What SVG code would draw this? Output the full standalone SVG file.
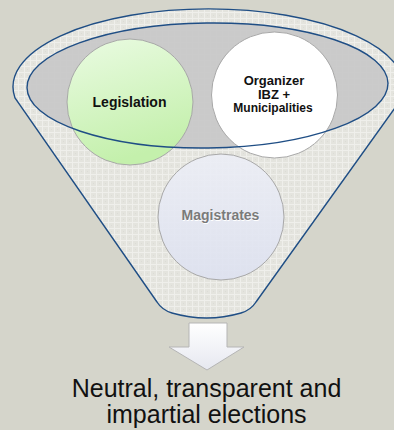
<svg xmlns="http://www.w3.org/2000/svg" width="394" height="430" viewBox="0 0 394 430">
<defs>
<style>
.funnel{fill:url(#grid);stroke:#1f4e85;stroke-width:1.4}
.inner{fill:#c8c8c8;fill-opacity:0.92}
.innerStroke{fill:none;stroke:#1f4e85;stroke-width:1.4}
.circ{stroke:#a8a8a8;stroke-width:1}
.lbl{font-family:"Liberation Sans",Arial,sans-serif;font-weight:bold;text-anchor:middle;fill:#111}
.big{font-family:"Liberation Sans",Arial,sans-serif;font-size:25px;text-anchor:middle;fill:#111}
</style>
<pattern id="grid" width="6" height="6" patternUnits="userSpaceOnUse">
<rect width="6" height="6" fill="#e4e4de"/>
<rect x="0" y="0" width="6" height="1" fill="#efefeb"/>
<rect x="0" y="0" width="1" height="6" fill="#efefeb"/>
<rect x="3" y="3" width="1" height="1" fill="#dcdcd6"/>
</pattern>
<linearGradient id="green" x1="0" y1="0" x2="0.3" y2="1">
<stop offset="0" stop-color="#eafbe2"/>
<stop offset="1" stop-color="#c4f0ac"/>
</linearGradient>
<linearGradient id="lav" x1="0" y1="0" x2="0" y2="1">
<stop offset="0" stop-color="#eceef6" stop-opacity="0.9"/>
<stop offset="1" stop-color="#dde1f0" stop-opacity="0.9"/>
</linearGradient>
<linearGradient id="arrowG" x1="0" y1="0" x2="0" y2="1">
<stop offset="0" stop-color="#ffffff"/>
<stop offset="1" stop-color="#e6e8f0"/>
</linearGradient>
</defs>
<rect width="394" height="430" fill="#d5d5cb"/>

<g id="funnel">
<path class="funnel" d="M15,98 A195.5,78 0 1 1 402,98 L256,302 Q251,310 241,313 Q206.5,323 172,313 Q162,310 157,302 Z"/>
<g transform="rotate(-0.7 207.5 85.5)">
<ellipse class="inner" cx="207.5" cy="85.5" rx="180.5" ry="62.5"/>
</g>
</g>

<g id="node-legislation">
<circle class="circ" cx="130" cy="102" r="63" fill="url(#green)"/>
</g>
<g id="node-organizer">
<circle class="circ" cx="274.5" cy="95" r="63" fill="#ffffff"/>
</g>

<g id="connectors">
<g transform="rotate(-0.7 207.5 85.5)">
<ellipse class="innerStroke" cx="207.5" cy="85.5" rx="180.5" ry="62.5"/>
</g>
<path d="M189,323 H227 V347 H244 L207,370 L169,347 H189 Z" fill="url(#arrowG)" stroke="#b5b5b5" stroke-width="1"/>
</g>

<g id="node-magistrates">
<circle class="circ" cx="221" cy="217" r="63" fill="url(#lav)" stroke="#c4c4cc"/>
<text class="lbl" x="221" y="221" font-size="14" style="fill:#ffffff">Magistrates</text>
<text class="lbl" x="220.5" y="220" font-size="14" style="fill:#7a7a7a">Magistrates</text>
</g>

<g id="labels">
<text class="lbl" x="129.5" y="107" font-size="14">Legislation</text>
<text class="lbl" x="274" y="85" font-size="13">Organizer</text>
<text class="lbl" x="274" y="98.5" font-size="13">IBZ +</text>
<text class="lbl" x="273" y="112" font-size="12">Municipalities</text>
</g>

<g id="node-result">
<text class="big" x="206.5" y="397">Neutral, transparent and</text>
<text class="big" x="206.5" y="423">impartial elections</text>
</g>
</svg>
